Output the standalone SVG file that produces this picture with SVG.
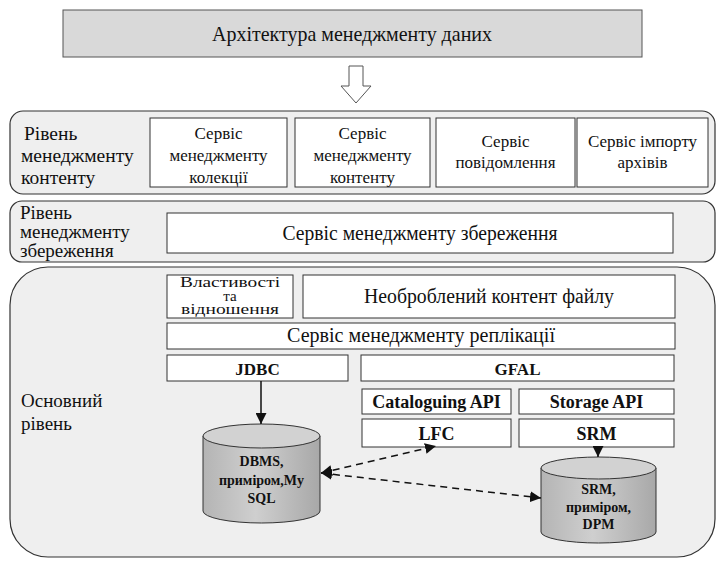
<svg xmlns="http://www.w3.org/2000/svg" width="718" height="561" viewBox="0 0 718 561" font-family="Liberation Serif, Tinos, Times New Roman, serif">
<defs>
<style>
text{font-family:"Liberation Serif",Tinos,"Times New Roman",serif;fill:#111}
.b{font-weight:bold}
.box{fill:#fff;stroke:#333;stroke-width:1}
.layer{fill:#efefef;stroke:#333;stroke-width:1.2}
.dash{stroke:#111;stroke-width:1.5;stroke-dasharray:7 5;fill:none}
.solid{stroke:#111;stroke-width:1.5;fill:none}
</style>
<marker id="ah2" viewBox="0 0 10 10" refX="10" refY="5" markerWidth="11" markerHeight="11" markerUnits="userSpaceOnUse" orient="auto-start-reverse">
<path d="M0,0 L10,5 L0,10 z" fill="#111"/>
</marker>
<linearGradient id="cyl" x1="0" y1="0" x2="1" y2="0">
<stop offset="0" stop-color="#b4b4b4"/>
<stop offset="0.45" stop-color="#cfcfcf"/>
<stop offset="1" stop-color="#a8a8a8"/>
</linearGradient>
</defs>
<rect width="718" height="561" fill="#fff"/>

<g id="title">
<rect x="63" y="10" width="579" height="47" fill="#d9d9d9" stroke="#555"/>
<text x="352" y="41" font-size="21" text-anchor="middle" textLength="280" lengthAdjust="spacingAndGlyphs">Архітектура менеджменту даних</text>
</g>
<g id="bigArrow">
<polygon points="349,66 363,66 363,86 371,86 356,103 341,86 349,86" fill="#fff" stroke="#555"/>
</g>

<g id="layer1">
<rect class="layer" x="10" y="111" width="705" height="83" rx="13"/>
<text font-size="19.5"><tspan x="24" y="140">Рівень</tspan><tspan x="21" y="162">менеджменту</tspan><tspan x="21" y="184">контенту</tspan></text>
</g>
<g id="svcCollection">
<rect class="box" x="150" y="118" width="137" height="69"/>
<text font-size="17" text-anchor="middle"><tspan x="218.5" y="139">Сервіс</tspan><tspan x="218.5" y="161">менеджменту</tspan><tspan x="218.5" y="183">колекції</tspan></text>
</g>
<g id="svcContent">
<rect class="box" x="295" y="118" width="135" height="69"/>
<text font-size="17" text-anchor="middle"><tspan x="362.5" y="139">Сервіс</tspan><tspan x="362.5" y="161">менеджменту</tspan><tspan x="362.5" y="183">контенту</tspan></text>
</g>
<g id="svcNotify">
<rect class="box" x="436" y="118" width="139" height="69"/>
<text font-size="17" text-anchor="middle"><tspan x="505.5" y="147">Сервіс</tspan><tspan x="505.5" y="168">повідомлення</tspan></text>
</g>
<g id="svcImport">
<rect class="box" x="577" y="118" width="131" height="69"/>
<text font-size="17" text-anchor="middle"><tspan x="642.5" y="147">Сервіс імпорту</tspan><tspan x="642.5" y="168">архівів</tspan></text>
</g>

<g id="layer2">
<rect class="layer" x="10" y="201" width="705" height="61" rx="12"/>
<text font-size="19"><tspan x="20" y="219">Рівень</tspan><tspan x="20" y="238">менеджменту</tspan><tspan x="20" y="257">збереження</tspan></text>
</g>
<g id="svcStorage">
<rect class="box" x="167" y="213" width="506" height="40"/>
<text x="420" y="240" font-size="20" text-anchor="middle" textLength="275" lengthAdjust="spacingAndGlyphs">Сервіс менеджменту збереження</text>
</g>

<g id="layer3">
<rect class="layer" x="10" y="267" width="705" height="290" rx="38"/>
<text font-size="19"><tspan x="21" y="407">Основний</tspan><tspan x="21" y="430">рівень</tspan></text>
</g>
<g id="props">
<rect class="box" x="167" y="275" width="126" height="43"/>
<text font-size="15" text-anchor="middle"><tspan x="230" y="287" textLength="100" lengthAdjust="spacingAndGlyphs">Властивості</tspan><tspan x="230" y="300.5">та</tspan><tspan x="230" y="314" textLength="98" lengthAdjust="spacingAndGlyphs">відношення</tspan></text>
</g>
<g id="rawContent">
<rect class="box" x="303" y="275" width="372" height="43"/>
<text x="489" y="303" font-size="20" text-anchor="middle" textLength="250" lengthAdjust="spacingAndGlyphs">Необроблений контент файлу</text>
</g>
<g id="replication">
<rect class="box" x="167" y="323" width="508" height="26"/>
<text x="421" y="342" font-size="20" text-anchor="middle" textLength="268" lengthAdjust="spacingAndGlyphs">Сервіс менеджменту реплікації</text>
</g>
<g id="jdbc">
<rect class="box" x="167" y="355" width="181" height="26"/>
<text class="b" x="257.5" y="375" font-size="17" text-anchor="middle">JDBC</text>
</g>
<g id="gfal">
<rect class="box" x="361" y="355" width="313" height="26"/>
<text class="b" x="517.5" y="375" font-size="17" text-anchor="middle">GFAL</text>
</g>
<g id="catalogApi">
<rect class="box" x="362" y="389" width="149" height="25"/>
<text class="b" x="436.5" y="408" font-size="18" text-anchor="middle">Cataloguing API</text>
</g>
<g id="storageApi">
<rect class="box" x="519" y="389" width="155" height="25"/>
<text class="b" x="596.5" y="408" font-size="18" text-anchor="middle">Storage API</text>
</g>
<g id="lfc">
<rect class="box" x="362" y="419" width="149" height="28"/>
<text class="b" x="436.5" y="440" font-size="18" text-anchor="middle">LFC</text>
</g>
<g id="srm">
<rect class="box" x="519" y="419" width="155" height="28"/>
<text class="b" x="596.5" y="440" font-size="18" text-anchor="middle">SRM</text>
</g>

<g id="dbms">
<path d="M203,436 L203,511 A58.5,12 0 0 0 320,511 L320,436" fill="url(#cyl)" stroke="#333"/>
<ellipse cx="261.5" cy="436" rx="58.5" ry="12" fill="#d2d2d2" stroke="#333"/>
<text class="b" font-size="14" text-anchor="middle"><tspan x="261.5" y="466">DBMS,</tspan><tspan x="261.5" y="485">приміром,My</tspan><tspan x="261.5" y="503">SQL</tspan></text>
</g>
<g id="dpm">
<path d="M541,468 L541,532 A57.5,11 0 0 0 656,532 L656,468" fill="url(#cyl)" stroke="#333"/>
<ellipse cx="598.5" cy="468" rx="57.5" ry="11" fill="#d2d2d2" stroke="#333"/>
<text class="b" font-size="14" text-anchor="middle"><tspan x="598.5" y="494">SRM,</tspan><tspan x="598.5" y="512">приміром,</tspan><tspan x="598.5" y="529">DPM</tspan></text>
</g>

<g id="connectors">
<line class="solid" x1="261" y1="381" x2="261" y2="424" marker-end="url(#ah2)"/>
<line class="solid" x1="598" y1="447" x2="598" y2="457" marker-end="url(#ah2)"/>
<line class="dash" x1="321" y1="473" x2="436" y2="446" marker-start="url(#ah2)" marker-end="url(#ah2)"/>
<line class="dash" x1="321" y1="473" x2="541" y2="498" marker-start="url(#ah2)" marker-end="url(#ah2)"/>
</g>
</svg>
